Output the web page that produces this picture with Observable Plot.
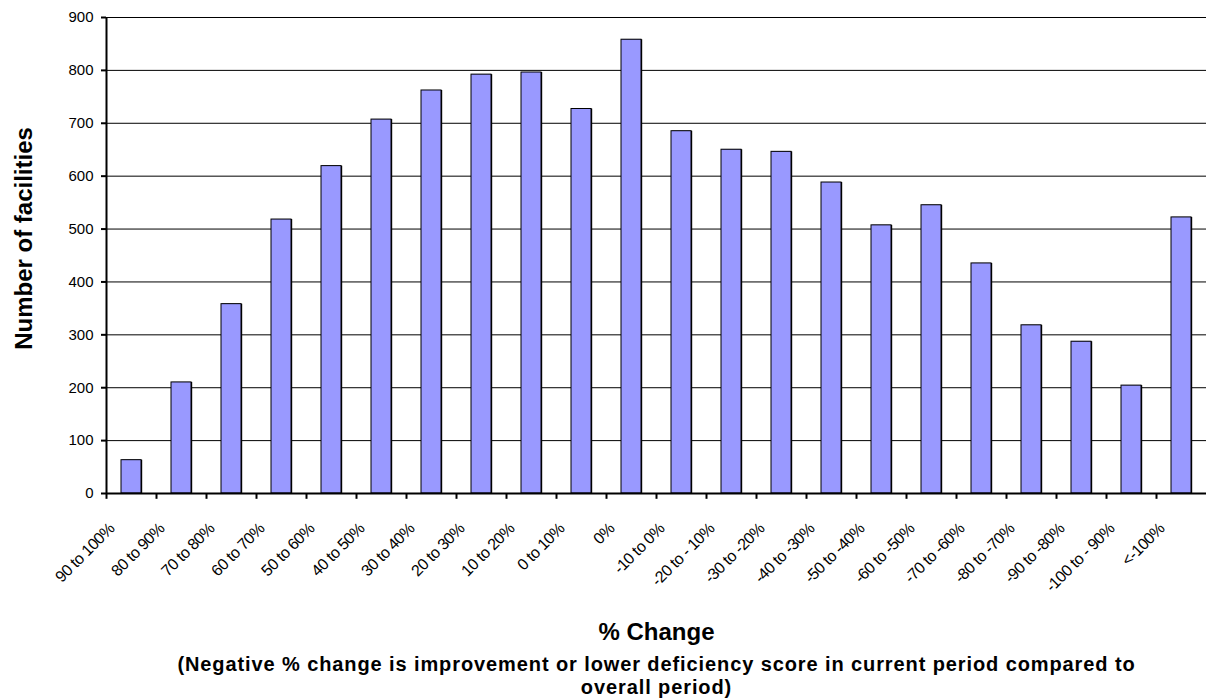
<!DOCTYPE html>
<html>
<head>
<meta charset="utf-8">
<script src="https://cdn.jsdelivr.net/npm/d3@7"></script>
<script src="https://cdn.jsdelivr.net/npm/@observablehq/plot@0.6"></script>
<style>
  html, body { margin: 0; padding: 0; background: #fff; }
  #wrap { position: relative; width: 1207px; height: 700px; font-family: "Liberation Sans", Arial, sans-serif; }
  #chart { position: absolute; left: 0; top: 0; }
  .xt { position: absolute; left: 106px; width: 1101px; text-align: center; font-weight: bold; color: #000; white-space: nowrap; }
  .sub { font-size: 20px; line-height: 22px; letter-spacing: 0.9px; }
  .xlab { letter-spacing: -0.5px; }
</style>
</head>
<body>
<div id="wrap">
  <div id="chart"></div>
  <div class="xt" id="xtitle" style="top:618px; font-size:24px; line-height:27px;"></div>
  <div class="xt sub" id="xsub1" style="top:653.1px;"></div>
  <div class="xt sub" id="xsub2" style="top:675.8px;"></div>
</div>
<script>
const categories = ["90 to 100%", "80 to 90%", "70 to 80%", "60 to 70%", "50 to 60%", "40 to 50%",
  "30 to 40%", "20 to 30%", "10 to 20%", "0 to 10%", "0%", "-10 to 0%", "-20 to - 10%",
  "-30 to -20%", "-40 to -30%", "-50 to -40%", "-60 to -50%", "-70 to -60%", "-80 to -70%",
  "-90 to -80%", "-100 to - 90%", "<-100%"];
const facilities = [63, 210, 358, 518, 619, 707, 762, 792, 796, 727, 858, 685, 650, 646, 588,
  507, 545, 435, 318, 287, 204, 522];
const yTicks = [0, 100, 200, 300, 400, 500, 600, 700, 800, 900];
const yTitle = "Number of facilities";
const xTitle = "% Change";
const xSubtitle = ["(Negative % change is improvement or lower deficiency score in current period compared to", "overall period)"];

const data = categories.map((c, i) => ({category: c, value: facilities[i]}));

const chart = Plot.plot({
  width: 1207,
  height: 615,
  marginLeft: 106,
  marginRight: 1,
  marginTop: 17,
  marginBottom: 122,
  style: {fontFamily: "Liberation Sans, Arial, sans-serif", fontSize: "15px", color: "#000", background: "#fff"},
  x: {domain: categories, paddingInner: 0.6, paddingOuter: 0.3, axis: null},
  y: {domain: [0, 900], axis: null},
  marks: [
    Plot.ruleY(yTicks.filter(d => d > 0), {stroke: "#000", strokeWidth: 1}),
    Plot.axisY(yTicks, {tickSize: 5, tickPadding: 8, tickFormat: d => d, fontSize: 15, stroke: "#000", strokeWidth: 2, label: null}),
    Plot.barY(data, {x: "category", y: "value", fill: "#000", dx: 1.2}),
    Plot.barY(data, {x: "category", y: "value", fill: "#9999ff", stroke: "#000", strokeWidth: 1}),
    Plot.ruleY([0], {stroke: "#000", strokeWidth: 2}),
    Plot.ruleX([categories[0]], {dx: -25, y1: 0, y2: 900, stroke: "#000", strokeWidth: 2}),
    Plot.ruleX(categories, {dx: -25, y1: 0, y2: -11, stroke: "#000", strokeWidth: 2}),
    Plot.text(categories, {x: d => d, frameAnchor: "bottom", rotate: -45, textAnchor: "end",
      dx: -16, dy: 36, fontSize: 16, fill: "#000", text: d => d, className: "xlab"}),
    Plot.text([yTitle], {frameAnchor: "left", textAnchor: "middle", rotate: -90, dx: -82, dy: -17, fontSize: 24,
      fontWeight: "bold", fill: "#000", text: d => d})
  ]
});
document.getElementById("chart").appendChild(chart);
document.getElementById("xtitle").textContent = xTitle;
document.getElementById("xsub1").textContent = xSubtitle[0];
document.getElementById("xsub2").textContent = xSubtitle[1];
</script>
</body>
</html>
